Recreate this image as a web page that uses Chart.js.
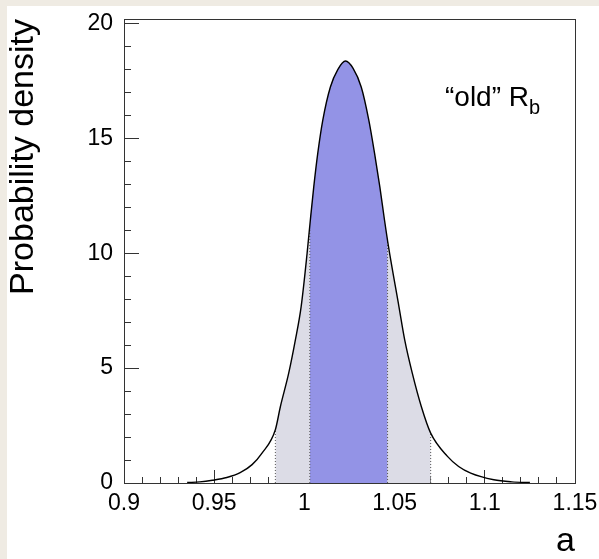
<!DOCTYPE html>
<html>
<head>
<meta charset="utf-8">
<script src="https://cdn.jsdelivr.net/npm/chart.js@4/dist/chart.umd.min.js"></script>
<style>
    body { margin: 0; background: #efebe3; }
    #wrap { position: relative; width: 599px; height: 559px; overflow: hidden; }
    #panel { position: absolute; left: 7px; top: 6px; width: 592px; height: 553px; background: #fff; }
    #c { position: absolute; left: 0; top: 0; }
    #label { position: absolute; left: 445px; top: 83px; font: 28px 'Liberation Sans', Arial, Helvetica, sans-serif; line-height: 1; color: #000; white-space: nowrap; }
    #label span { font-size: 20px; position: relative; top: 8px; }
</style>
</head>
<body>
<div id="wrap">
    <div id="panel"></div>
    <canvas id="c" width="599" height="559"></canvas>
    <div id="label">“old” R<span>b</span></div>
</div>
<script>
// valeurs (a, densité)
const curveX = [0.935, 0.942, 0.949, 0.957, 0.9644, 0.971, 0.9765, 0.9839, 0.9867, 0.9913, 0.995, 0.9982,
    1.0015, 1.0033, 1.0052, 1.0074, 1.0102, 1.0144, 1.0185, 1.0228, 1.027, 1.0315, 1.0357, 1.0389,
    1.0418, 1.0444, 1.0466, 1.0524, 1.0556, 1.0598, 1.0648, 1.0700, 1.0793, 1.0855, 1.0922, 1.105, 1.115, 1.125];
const curveY = [0.02, 0.05, 0.12, 0.24, 0.45, 0.8, 1.3, 2.32, 3.33, 4.78, 6.23, 7.68,
    10.0, 11.45, 12.9, 14.35, 15.8, 17.24, 18.0, 18.37, 18.05, 17.24, 15.8, 14.35,
    12.9, 11.45, 10.3, 7.68, 6.23, 4.78, 3.33, 2.17, 1.16, 0.72, 0.43, 0.14, 0.05, 0.02];

// intervalles (bornes et hauteur de la courbe aux bornes)
const grayBand = [0.9839, 1.0700];
const grayEdgeY = [2.32, 2.17];
const blueBand = [1.0030, 1.0461];
const blueEdgeY = [11.1, 10.6];

// graduations
const xMajor = [0.9, 0.95, 1, 1.05, 1.1, 1.15];
const yMajor = [0, 5, 10, 15, 20];
const xMinor = [];
for (let i = 0; i <= 25; i++) xMinor.push(0.9 + i * 0.01);
const yMinor = [];
for (let i = 0; i <= 20; i++) yMinor.push(i);

const FONT = "'Liberation Sans', Arial, Helvetica, sans-serif";
const FRAME = '#333';

function bandPoints(band, edgeY) {
    const pts = [{ x: band[0], y: edgeY[0] }];
    curveX.forEach((x, i) => {
        if (x > band[0] && x < band[1]) pts.push({ x: x, y: curveY[i] });
    });
    pts.push({ x: band[1], y: edgeY[1] });
    return pts;
}

// pas de marge auto pour les étiquettes qui débordent
function noPad(s) {
    s.paddingLeft = 0; s.paddingRight = 0; s.paddingTop = 0; s.paddingBottom = 0;
}

const edgeLines = [];
[[grayBand[0], grayEdgeY[0]], [blueBand[0], blueEdgeY[0]], [blueBand[1], blueEdgeY[1]], [grayBand[1], grayEdgeY[1]]]
    .forEach(e => {
        edgeLines.push({ x: e[0], y: 0 }, { x: e[0], y: e[1] }, { x: e[0], y: null });
    });

Chart.defaults.font.family = FONT;
Chart.defaults.color = '#000';

new Chart(document.getElementById('c'), {
    type: 'line',
    data: {
        datasets: [
            {
                data: bandPoints(grayBand, grayEdgeY),
                fill: 'origin',
                backgroundColor: '#dcdce6',
                borderWidth: 0,
                pointRadius: 0,
                cubicInterpolationMode: 'monotone',
                order: 4
            },
            {
                data: bandPoints(blueBand, blueEdgeY),
                fill: 'origin',
                backgroundColor: '#9393e6',
                borderWidth: 0,
                pointRadius: 0,
                cubicInterpolationMode: 'monotone',
                order: 3
            },
            {
                data: edgeLines,
                borderColor: '#555',
                borderWidth: 1,
                borderDash: [1, 2],
                pointRadius: 0,
                spanGaps: false,
                fill: false,
                order: 2
            },
            {
                data: curveX.map((x, i) => ({ x: x, y: curveY[i] })),
                borderColor: '#000',
                borderWidth: 1.4,
                pointRadius: 0,
                fill: false,
                cubicInterpolationMode: 'monotone',
                order: 1
            }
        ]
    },
    options: {
        responsive: false,
        animation: false,
        devicePixelRatio: 1,
        layout: { padding: { left: 0, right: 24, top: 19, bottom: 0 } },
        plugins: { legend: { display: false }, tooltip: { enabled: false } },
        scales: {
            x: {
                type: 'linear', position: 'bottom', min: 0.9, max: 1.15,
                afterBuildTicks: s => { s.ticks = xMajor.map(v => ({ value: v })); },
                afterFit: s => { s.height = 76; noPad(s); },
                grid: { drawOnChartArea: false, tickLength: -13, color: FRAME, tickWidth: 1 },
                border: { color: FRAME, width: 1 },
                ticks: { padding: 20, font: { size: 23 }, maxRotation: 0, autoSkip: false, callback: v => String(v) },
                title: { display: true, text: 'a', align: 'end', font: { size: 34, lineHeight: 1 }, padding: 0 }
            },
            y: {
                type: 'linear', position: 'left', min: 0, max: 20.2,
                afterBuildTicks: s => { s.ticks = yMajor.map(v => ({ value: v })); },
                afterFit: s => { s.width = 124; noPad(s); },
                grid: { drawOnChartArea: false, tickLength: -15, color: FRAME, tickWidth: 1 },
                border: { color: FRAME, width: 1 },
                ticks: { padding: 26, font: { size: 23 }, callback: v => String(v) },
                title: { display: true, text: 'Probability density', align: 'end', font: { size: 34, lineHeight: 1 }, padding: { top: 7, bottom: 0 } }
            },
            xMinor: {
                type: 'linear', axis: 'x', position: { y: 0 }, min: 0.9, max: 1.15,
                afterBuildTicks: s => { s.ticks = xMinor.map(v => ({ value: v })); },
                afterFit: noPad,
                grid: { drawOnChartArea: false, tickLength: -6, color: FRAME, tickWidth: 1 },
                border: { display: false },
                ticks: { display: false }
            },
            yMinor: {
                type: 'linear', axis: 'y', position: { x: 0.9 }, min: 0, max: 20.2,
                afterBuildTicks: s => { s.ticks = yMinor.map(v => ({ value: v })); },
                afterFit: noPad,
                grid: { drawOnChartArea: false, tickLength: -7, color: FRAME, tickWidth: 1 },
                border: { display: false },
                ticks: { display: false }
            },
            xTop: {
                type: 'linear', axis: 'x', position: 'top', min: 0.9, max: 1.15,
                afterFit: s => { s.height = 0; noPad(s); },
                grid: { display: false, drawTicks: false },
                border: { color: FRAME, width: 1 },
                ticks: { display: false }
            },
            yRight: {
                type: 'linear', axis: 'y', position: 'right', min: 0, max: 20.2,
                afterFit: s => { s.width = 0; noPad(s); },
                grid: { display: false, drawTicks: false },
                border: { color: FRAME, width: 1 },
                ticks: { display: false }
            }
        }
    }
});
</script>
</body>
</html>
